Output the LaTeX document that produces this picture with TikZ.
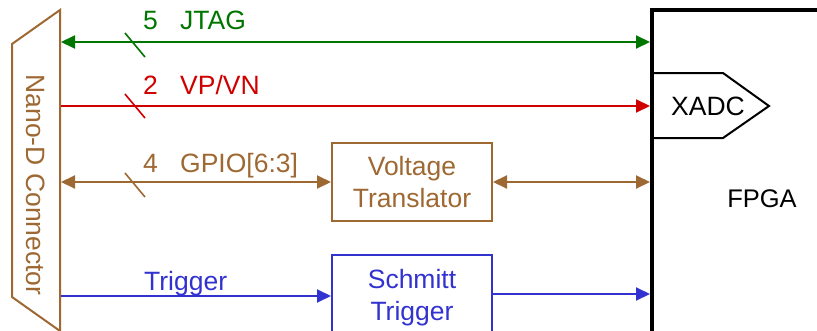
\documentclass[tikz,border=0pt]{standalone}
\usepackage{fontspec}
\setmainfont{Liberation Sans}
\usetikzlibrary{arrows.meta}
\definecolor{jgreen}{RGB}{0,118,0}
\definecolor{vred}{RGB}{208,0,0}
\definecolor{gbrown}{RGB}{158,104,50}
\definecolor{tblue}{RGB}{50,50,208}
\tikzset{
  sig/.style={line width=2pt, arrows={-Triangle[length=14pt,width=13pt]}},
  dsig/.style={line width=2pt, arrows={Triangle[length=14pt,width=13pt]-Triangle[length=14pt,width=13pt]}},
  busmark/.style={line width=1.6pt},
  lbl/.style={font=\fontsize{26.5}{31}\selectfont, inner sep=0pt, anchor=base west},
  blk/.style={draw, line width=2pt, minimum width=160pt, align=center, font=\fontsize{26.5}{32}\selectfont},
}
\begin{document}
\begin{tikzpicture}[x=1pt,y=-1pt]
\useasboundingbox (0,0) rectangle (817,330);
\clip (0,0) rectangle (817,330);
% connector
\draw[gbrown, line width=2pt, line join=miter] (60,10) -- (12,44) -- (12,297) -- (60,331) -- cycle;
\node[gbrown, rotate=-90, font=\fontsize{26.5}{31}\selectfont] (conn) at (36,185) {Nano-D Connector};
% FPGA
\draw[line width=3.5pt] (652,350) -- (652,10) -- (840,10);
\node[font=\fontsize{25.5}{30}\selectfont] (fpga) at (762,199) {FPGA};
\draw[line width=2pt] (652,73) -- (723,73) -- (769,106) -- (723,138) -- (652,138);
\node[font=\fontsize{26.5}{31}\selectfont] (xadc) at (708,106) {XADC};
% endpoints
\coordinate (cJ) at (61,42);  \coordinate (fJ) at (650,42);
\coordinate (cV) at (61,106); \coordinate (fV) at (650,106);
\coordinate (cG) at (61,182); \coordinate (fG) at (650,182);
\coordinate (cT) at (61,296); \coordinate (fT) at (650,294);
% blocks
\node[blk, gbrown, minimum height=78pt] (vt) at (412,182) {Voltage\\Translator};
\node[blk, tblue, minimum height=86pt] (st) at (412,298) {Schmitt\\Trigger};
% JTAG
\draw[dsig, jgreen] (cJ) -- (fJ);
\draw[busmark, jgreen] (125,33) -- (145,57);
\node[lbl, jgreen] (n5) at (143,29) {5};
\node[lbl, jgreen] (jtag) at (180,29) {JTAG};
% VP/VN
\draw[sig, vred] (cV) -- (fV);
\draw[busmark, vred] (125,94) -- (145,118);
\node[lbl, vred] (n2) at (143,94) {2};
\node[lbl, vred] (vpvn) at (180,94) {VP/VN};
% GPIO
\draw[dsig, gbrown] (cG) -- (vt.west |- cG);
\draw[dsig, gbrown] (vt.east |- fG) -- (fG);
\draw[busmark, gbrown] (125,173) -- (145,197);
\node[lbl, gbrown] (n4) at (143,172) {4};
\node[lbl, gbrown] (gpio) at (180,172) {GPIO[6:3]};
% Trigger
\draw[sig, tblue] (cT) -- (st.west |- cT);
\draw[sig, tblue] (st.east |- fT) -- (fT);
\node[lbl, tblue] (trig) at (144,290) {Trigger};
\end{tikzpicture}
\end{document}
